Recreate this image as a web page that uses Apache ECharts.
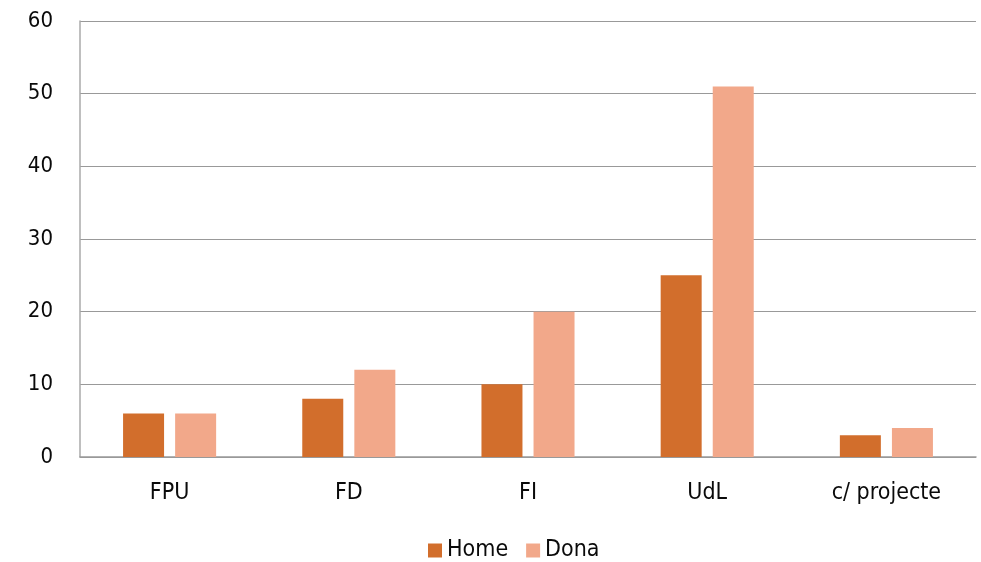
<!DOCTYPE html>
<html>
<head>
<meta charset="utf-8">
<script src="https://cdn.jsdelivr.net/npm/echarts@6/dist/echarts.min.js"></script>
<style>
  html, body { margin: 0; padding: 0; background: #fff; }
  #chart { width: 981px; height: 562px; }
</style>
</head>
<body>
<div id="chart"></div>
<script>
// dades
const categories = ['FPU', 'FD', 'FI', 'UdL', 'c/ projecte'];
const home = [6, 8, 10, 25, 3];
const dona = [6, 12, 20, 51, 4];
const yTicks = { min: 0, max: 60, interval: 10 };

const font = "'DejaVu Sans Condensed', 'Roboto', sans-serif";

let chart = echarts.init(document.getElementById('chart'));
chart.setOption({
  animation: false,
  backgroundColor: '#fff',
  textStyle: { fontFamily: font },
  grid: { left: 80, right: 5, top: 21, bottom: 105, containLabel: false },
  legend: {
    top: 534,
    left: 423,
    itemWidth: 14,
    itemHeight: 14,
    itemGap: 18,
    icon: 'rect',
    textStyle: { fontFamily: font, fontSize: 23, color: '#0a0a0a' },
    data: ['Home', 'Dona']
  },
  xAxis: {
    type: 'category',
    data: categories,
    axisTick: { show: false },
    axisLine: { lineStyle: { color: '#999', width: 1.5 } },
    axisLabel: { fontFamily: font, fontSize: 23, color: '#0a0a0a', margin: 25 }
  },
  yAxis: {
    type: 'value',
    min: yTicks.min,
    max: yTicks.max,
    interval: yTicks.interval,
    axisLine: { show: true, lineStyle: { color: '#aaa', width: 1.5 } },
    axisTick: { show: false },
    splitLine: { lineStyle: { color: '#999', width: 1.2 } },
    axisLabel: { fontFamily: font, fontSize: 22, color: '#0a0a0a', margin: 27 }
  },
  series: [
    {
      name: 'Home',
      type: 'bar',
      data: home,
      barWidth: 41,
      barGap: '27%',
      itemStyle: { color: '#D26E2C' }
    },
    {
      name: 'Dona',
      type: 'bar',
      data: dona,
      barWidth: 41,
      itemStyle: { color: '#F2A88A' }
    }
  ]
});
</script>
</body>
</html>
